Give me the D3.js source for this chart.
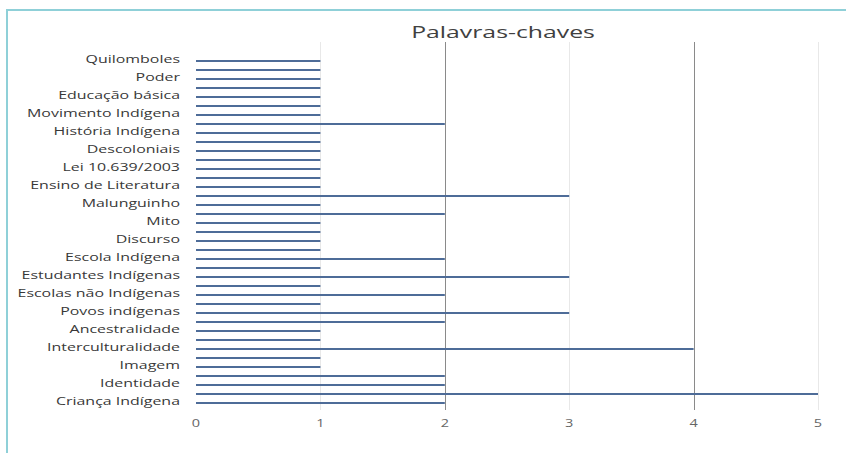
<!DOCTYPE html>
<html lang="pt">
<head>
<meta charset="UTF-8">
<title>Palavras-chaves</title>
<script src="https://d3js.org/d3.v7.min.js"></script>
<style>
  body { margin: 0; background: #fff; font-family: "Open Sans", sans-serif; }
  .frame { fill: none; stroke: #8fd0d8; stroke-width: 2; }
  .grid line { stroke: #e8e8e8; }
  .grid line.major { stroke: #8a8a8a; }
  .bar { fill: #4e6c98; }
  .cat-label { font-size: 11px; fill: #383838; }
  .tick-label { font-size: 10px; fill: #666; }
  .title { font-size: 16px; fill: #404040; }
</style>
</head>
<body>
<svg width="846" height="453"></svg>
<script>
// categories from top to bottom; only every other one is labelled in the source
const labels = [
  "Quilomboles", "", "Poder", "", "Educação básica", "", "Movimento Indígena", "",
  "História Indígena", "", "Descoloniais", "", "Lei 10.639/2003", "", "Ensino de Literatura", "",
  "Malunguinho", "", "Mito", "", "Discurso", "", "Escola Indígena", "",
  "Estudantes Indígenas", "", "Escolas não Indígenas", "", "Povos indígenas", "",
  "Ancestralidade", "", "Interculturalidade", "", "Imagem", "", "Identidade", "", "Criança Indígena"
];
const values = [1, 1, 1, 1, 1, 1, 1, 2, 1, 1, 1, 1, 1, 1, 1, 3, 1, 2, 1, 1,
                1, 1, 2, 1, 3, 1, 2, 1, 3, 2, 1, 1, 4, 1, 1, 2, 2, 5, 2];
const ticks = [0, 1, 2, 3, 4, 5];
const title = "Palavras-chaves";

const width = 846, height = 453;
const plot = { left: 196, right: 818, top: 42, bottom: 410 };
const stretch = 1.45; // the source text is widened

const svg = d3.select("svg");

// frame: only left and top edges are visible in the source
svg.append("rect").attr("class", "frame")
  .attr("x", 7).attr("y", 10).attr("width", 860).attr("height", 470);

const x = d3.scaleLinear().domain([0, 5]).range([plot.left, plot.right]);
const y = d3.scaleBand().domain(d3.range(values.length)).range([56.5, 407.5]);

// vertical gridlines
svg.append("g").attr("class", "grid")
  .selectAll("line").data(ticks.slice(1)).join("line")
  .attr("class", d => d % 2 === 0 ? "major" : null)
  .attr("x1", d => Math.round(x(d)) + 0.5).attr("x2", d => Math.round(x(d)) + 0.5)
  .attr("y1", plot.top).attr("y2", plot.bottom);

// bars (thin lines)
svg.append("g").selectAll("rect").data(values).join("rect")
  .attr("class", "bar")
  .attr("x", x(0))
  .attr("y", (d, i) => y(i) + y.bandwidth() / 2 - 1)
  .attr("width", d => x(d) - x(0))
  .attr("height", 2);

// category labels
svg.append("g").selectAll("text").data(labels).join("text")
  .attr("class", "cat-label")
  .attr("text-anchor", "end")
  .attr("dominant-baseline", "middle")
  .attr("transform", (d, i) => `translate(180,${y(i) + y.bandwidth() / 2 - 1}) scale(${stretch},1)`)
  .text(d => d);

// value tick labels
svg.append("g").selectAll("text").data(ticks).join("text")
  .attr("class", "tick-label")
  .attr("text-anchor", "middle")
  .attr("transform", d => `translate(${x(d)},427) scale(${stretch},1)`)
  .text(d => d);

svg.append("text").attr("class", "title")
  .attr("text-anchor", "middle")
  .attr("transform", `translate(503,38) scale(1.55,1)`)
  .text(title);
</script>
</body>
</html>
